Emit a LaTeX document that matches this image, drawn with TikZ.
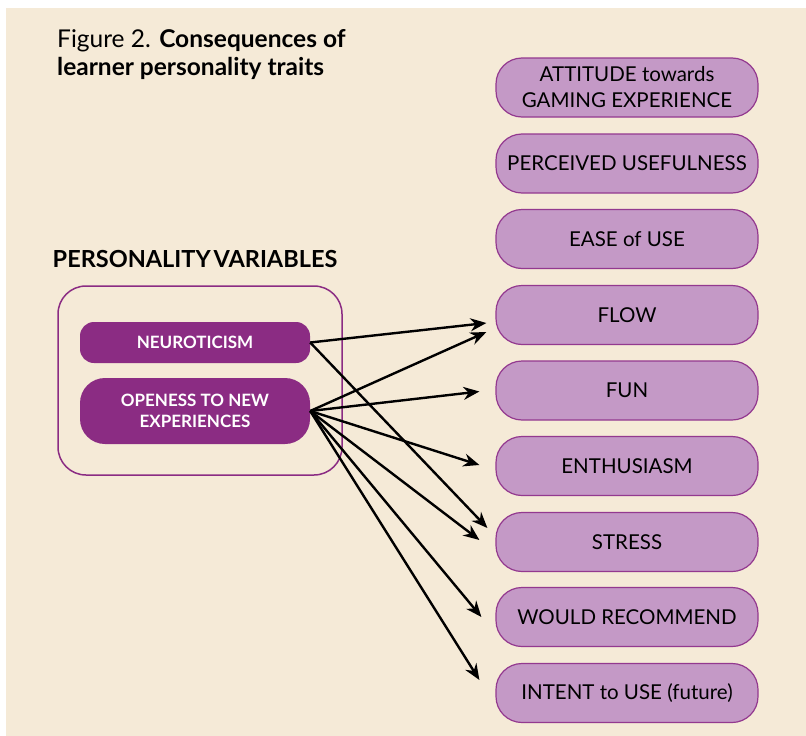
\documentclass[tikz,border=0pt]{standalone}
\usepackage{fontspec}
\setmainfont{Lato}
\usetikzlibrary{arrows.meta,calc}
\definecolor{bgbeige}{HTML}{F5EAD7}
\definecolor{darkpurple}{HTML}{8B2C83}
\definecolor{lightpurple}{HTML}{C499C6}
\definecolor{edgepurple}{HTML}{93398F}
\tikzset{
  outbox/.style={draw=edgepurple, line width=1.2pt, fill=lightpurple, rounded corners=26pt,
    minimum width=262pt, minimum height=59pt, align=center, inner sep=0pt,
    font=\fontsize{20.5}{26}\selectfont, text=black},
  traitbox/.style={fill=darkpurple, minimum width=230pt, align=center, inner sep=0pt,
    font=\fontsize{17}{21}\selectfont\bfseries, text=white},
  conn/.style={line width=2.4pt, -{Stealth[length=16pt,width=13pt]}}
}
\begin{document}
\begin{tikzpicture}[x=1pt,y=-1pt]
\useasboundingbox (0,0) rectangle (806,736);
\fill[bgbeige] (6,8) rectangle (806,736);
% title
\node[anchor=north west, align=left, inner sep=0pt, font=\fontsize{24.5}{28}\selectfont] (title) at (57,29)
  {Figure 2. \textbf{Consequences of}\\\textbf{learner personality traits}};
\node[font=\fontsize{23.5}{26}\selectfont\bfseries, inner sep=0pt] (pv) at (195,259) {PERSONALITY\hspace{0.12em}VARIABLES};
% outer frame
\node[draw=darkpurple, line width=1.5pt, rounded corners=28pt, minimum width=284pt, minimum height=189pt] (frame) at (200,380.5) {};
\node[traitbox, minimum height=41pt, rounded corners=14pt] (neuro) at (195,342.5) {NEUROTICISM};
\node[traitbox, minimum height=66pt, rounded corners=25pt] (open) at (195,411) {OPENESS TO NEW\\EXPERIENCES};
% right boxes
\node[outbox] (att) at (627,87.5) {ATTITUDE towards\\GAMING EXPERIENCE};
\node[outbox] (pu) at (627,163.5) {PERCEIVED USEFULNESS};
\node[outbox] (ease) at (627,239) {EASE of USE};
\node[outbox] (flow) at (627,315) {FLOW};
\node[outbox] (fun) at (627,390.5) {FUN};
\node[outbox] (enth) at (627,466) {ENTHUSIASM};
\node[outbox] (stress) at (627,542) {STRESS};
\node[outbox] (would) at (627,617) {WOULD RECOMMEND};
\node[outbox] (intent) at (627,693) {INTENT to USE (future)};
% connectors
\draw[conn] (neuro.east) -- ($(flow.west)+(-9,8)$);
\draw[conn] (open.east) -- ($(flow.west)+(-9,17)$);
\draw[conn] (open.east) -- ($(fun.west)+(-16,1)$);
\draw[conn] (open.east) -- ($(enth.west)+(-16,-1)$);
\draw[conn] (neuro.east) -- ($(stress.west)+(-8,-14)$);
\draw[conn] (open.east) -- ($(stress.west)+(-16,-2)$);
\draw[conn] (open.east) -- ($(would.west)+(-14,0)$);
\draw[conn] (open.east) -- ($(intent.west)+(-16,-13)$);
\end{tikzpicture}
\end{document}
